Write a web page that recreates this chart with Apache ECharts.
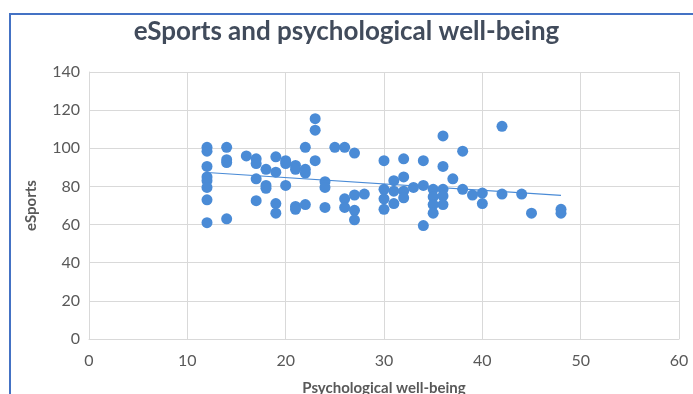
<!DOCTYPE html>
<html>
<head>
<meta charset="utf-8">
<script src="https://cdn.jsdelivr.net/npm/echarts@6/dist/echarts.min.js"></script>
<style>
  html, body { margin: 0; padding: 0; background: #ffffff; }
  #chart { width: 693px; height: 394px; }
</style>
</head>
<body>
<div id="chart"></div>
<script>
// Psychological well-being score for each respondent
const wellBeing = [
  12, 12, 12, 12, 12, 12, 12, 12,
  14, 14, 14, 14,
  16,
  17, 17, 17, 17,
  18, 18, 18,
  19, 19, 19, 19,
  20, 20, 20,
  21, 21, 21, 21,
  22, 22, 22, 22,
  23, 23, 23,
  24, 24, 24,
  25,
  26, 26, 26,
  27, 27, 27, 27,
  28,
  30, 30, 30, 30,
  31, 31, 31,
  32, 32, 32, 32,
  33,
  34, 34, 34,
  35, 35, 35, 35,
  36, 36, 36, 36, 36,
  37,
  38, 38,
  39,
  40, 40,
  42, 42,
  44,
  45,
  48, 48
];

// eSports score for the same respondents
const eSports = [
  100.5, 98.5, 90.5, 85, 83, 79.5, 73, 61,
  100.5, 94, 92.5, 63,
  96,
  94.5, 92, 84, 72.5,
  89, 80.5, 79,
  95.5, 87.5, 71, 66,
  93.5, 92, 80.5,
  91, 89, 69.5, 68,
  100.5, 89, 87, 70.5,
  115.5, 109.5, 93.5,
  82.5, 79.5, 69,
  100.5,
  100.5, 73.5, 69,
  97.5, 75.5, 67.5, 62.5,
  76,
  93.5, 78.5, 73.5, 68,
  83, 77.5, 71,
  94.5, 85, 77.5, 74,
  79.5,
  93.5, 80.5, 59.5,
  78.5, 74.5, 70.5, 66,
  106.5, 90.5, 78.5, 75, 70.5,
  84,
  98.5, 78.5,
  75.5,
  76.5, 71,
  111.5, 76,
  76,
  66,
  68, 66
];

// Linear trendline end points
const trendX = [12, 48];
const trendY = [87.3, 75.3];

const points = wellBeing.map((x, i) => [x, eSports[i]]);
const trend = trendX.map((x, i) => [x, trendY[i]]);

const chart = echarts.init(document.getElementById('chart'), null, { renderer: 'canvas' });

const gridColor = '#d9d9d9';
const labelColor = '#595959';
const fontFamily = 'Lato, "Open Sans", sans-serif';

chart.setOption({
  animation: false,
  backgroundColor: '#ffffff',
  title: {
    text: 'eSports and psychological well-being',
    left: 'center',
    top: 14,
    textStyle: {
      fontFamily: fontFamily,
      fontSize: 26,
      fontWeight: 'bold',
      color: '#414b5b'
    }
  },
  graphic: [{
    type: 'rect',
    shape: { x: 10, y: 14, width: 720, height: 420 },
    style: { fill: 'none', stroke: '#4472c4', lineWidth: 2 },
    silent: true,
    z: 100
  }],
  grid: { left: 89, right: 14, top: 72, bottom: 55, outerBoundsMode: 'none', containLabel: false },
  xAxis: {
    type: 'value',
    min: 0, max: 60, interval: 10,
    name: 'Psychological well-being',
    nameLocation: 'middle',
    nameGap: 42,
    nameTextStyle: { fontFamily: fontFamily, fontSize: 15, fontWeight: 'bold', color: labelColor },
    axisLine: { show: true, lineStyle: { color: gridColor, width: 1 } },
    axisTick: { show: false },
    splitLine: { show: true, lineStyle: { color: gridColor, width: 1 } },
    axisLabel: { fontFamily: fontFamily, fontSize: 16, color: labelColor, margin: 14 }
  },
  yAxis: {
    type: 'value',
    min: 0, max: 140, interval: 20,
    name: 'eSports',
    nameLocation: 'middle',
    nameRotate: 90,
    nameGap: 50,
    nameTextStyle: { fontFamily: fontFamily, fontSize: 15, fontWeight: 'bold', color: labelColor },
    axisLine: { show: true, lineStyle: { color: gridColor, width: 1 } },
    axisTick: { show: false },
    splitLine: { show: true, lineStyle: { color: gridColor, width: 1 } },
    axisLabel: { fontFamily: fontFamily, fontSize: 16, color: labelColor, margin: 9 }
  },
  series: [
    {
      name: 'eSports',
      type: 'scatter',
      data: points,
      symbol: 'circle',
      symbolSize: 11,
      itemStyle: { color: '#4a8bd6', opacity: 1 },
      z: 3
    },
    {
      name: 'Linear trend',
      type: 'line',
      data: trend,
      symbol: 'none',
      lineStyle: { color: '#4a8bd6', width: 1.2 },
      z: 4
    }
  ]
});
</script>
</body>
</html>
